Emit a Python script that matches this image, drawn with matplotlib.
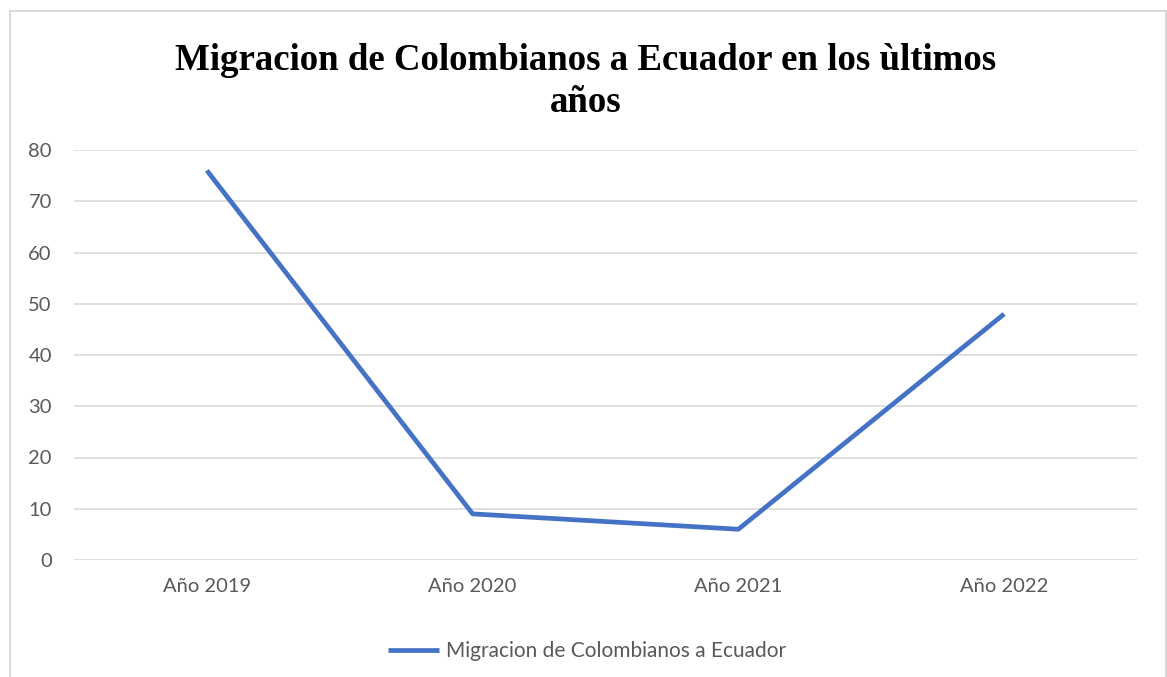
import matplotlib.pyplot as plt
from matplotlib.patches import Rectangle

# data
years = ['Año 2019', 'Año 2020', 'Año 2021', 'Año 2022']
migrantes = [76, 9, 6, 48]
yticks = [0, 10, 20, 30, 40, 50, 60, 70, 80]
serie = 'Migracion de Colombianos a Ecuador'

W, H = 1167, 677
fig = plt.figure(figsize=(W / 100, H / 100), dpi=100)

# outer chart border (light gray frame like the Excel chart area)
fig.patches.append(Rectangle((10 / W, -0.05), 1156 / W, 1.05 - 11 / H,
                             transform=fig.transFigure, fill=False,
                             edgecolor='#d9d9d9', linewidth=1.5))

ax = fig.add_axes([74 / W, 1 - 560 / H, (1137 - 74) / W, (560 - 150) / H])
x = range(len(years))
line, = ax.plot(x, migrantes, color='#4472C4', linewidth=3.4,
                solid_capstyle='butt', label=serie)

ax.set_xlim(-0.5, len(years) - 0.5)
ax.set_ylim(0, 80)
ax.set_yticks(yticks)
ax.set_xticks(list(x))
ax.set_xticklabels(years)
ax.yaxis.grid(True, color='#d9d9d9', linewidth=1.2)
ax.set_axisbelow(True)
for s in ax.spines.values():
    s.set_visible(False)
ax.tick_params(length=0, labelsize=14.5, labelcolor='#595959')
ax.tick_params(axis='y', pad=16)
ax.tick_params(axis='x', pad=13)
for lab in ax.get_xticklabels() + ax.get_yticklabels():
    lab.set_family('Lato')
line.set_clip_on(False)

fig.text(586 / W, 1 - 60 / H, 'Migracion de Colombianos a Ecuador en los ùltimos',
         ha='center', va='center', fontsize=26.6, fontweight='bold',
         family='Liberation Serif')
fig.text(586 / W, 1 - 102 / H, 'años', ha='center', va='center', fontsize=26.6,
         fontweight='bold', family='Liberation Serif')

leg = fig.legend(handles=[line], loc='center', bbox_to_anchor=(587 / W, 1 - 651 / H),
                 frameon=False, prop={'family': 'Lato', 'size': 15},
                 handlelength=2.45, handletextpad=0.3)
for t in leg.get_texts():
    t.set_color('#595959')

fig.savefig('out.png', dpi=100)
